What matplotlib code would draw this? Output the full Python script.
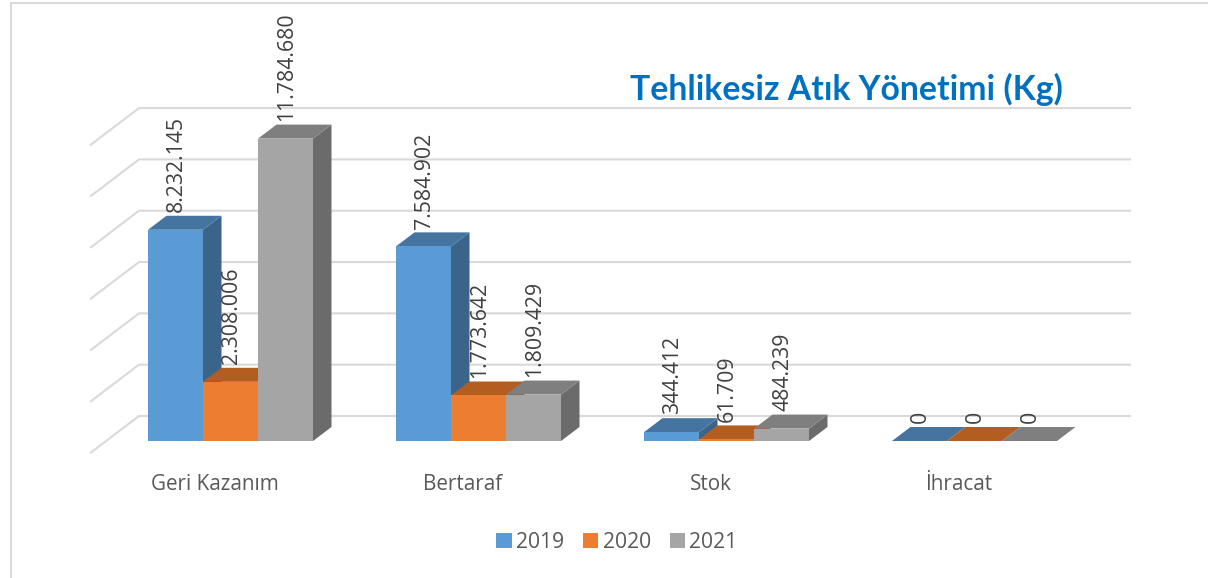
import matplotlib
matplotlib.use("Agg")
import matplotlib.pyplot as plt
from matplotlib.patches import Polygon, Rectangle
from matplotlib.lines import Line2D

categories = ["Geri Kazanım", "Bertaraf", "Stok", "İhracat"]
years = ["2019", "2020", "2021"]
v2019 = [8232145, 7584902, 344412, 0]
v2020 = [2308006, 1773642, 61709, 0]
v2021 = [11784680, 1809429, 484239, 0]
series = [v2019, v2020, v2021]
labels2019 = ["8.232.145", "7.584.902", "344.412", "0"]
labels2020 = ["2.308.006", "1.773.642", "61.709", "0"]
labels2021 = ["11.784.680", "1.809.429", "484.239", "0"]
series_labels = [labels2019, labels2020, labels2021]
grid_values = [0, 2000000, 4000000, 6000000, 8000000, 10000000, 12000000]
title = "Tehlikesiz Atık Yönetimi (Kg)"

W, H = 1208, 578
PX_X = 248.0          # pixels per category
PX_Y = 25.66e-6       # pixels per kg
X0, Y0 = 230.5, 441.0  # pixel of first group centre and of zero

front = ["#5B9BD5", "#ED7D31", "#A5A5A5"]
top = ["#44749F", "#B35E20", "#7F7F7F"]
side = ["#3A6489", "#A5561D", "#6B6B6B"]

fig = plt.figure(figsize=(W / 100, H / 100), dpi=100, facecolor="white")
ax = fig.add_axes([0, 0, 1, 1])
ax.set_xlim(-X0 / PX_X, (W - X0) / PX_X)
ax.set_ylim(-(H - Y0) / PX_Y, Y0 / PX_Y)
ax.axis("off")

def dx(px):
    return px / PX_X

def dy(px):
    return px / PX_Y

# chart frame
for xs, ys in [((11, 11), (3, H)), ((11, W), (3, 3))]:
    ax.add_line(Line2D([-X0 / PX_X + dx(p) for p in xs], [Y0 / PX_Y - dy(p) for p in ys],
                       color="#D9D9D9", lw=1.4, zorder=1))

# back wall gridlines with side-wall diagonals
GRID_COLOR = "#D9D9D9"
xl_back = -X0 / PX_X + dx(139)
xr_back = -X0 / PX_X + dx(1130)
for g in grid_values:
    yb = g + dy(25)
    ax.plot([xl_back - dx(48), xl_back, xr_back], [yb - dy(36.5), yb, yb],
            color=GRID_COLOR, lw=1.5, zorder=1, solid_joinstyle="miter")

# bars
BW = 55.0 / PX_X
DX, DY = dx(18.5), dy(14)
for c in range(len(categories)):
    for s, vals in enumerate(series):
        v = vals[c]
        x0 = c + (s - 1.5) * BW
        x1 = x0 + BW
        z = 3 + c * 10 + s
        ax.add_patch(Polygon([(x1, 0), (x1 + DX, DY), (x1 + DX, v + DY), (x1, v)],
                             closed=True, fc=side[s], ec="none", zorder=z))
        ax.add_patch(Polygon([(x0, v), (x1, v), (x1 + DX, v + DY), (x0 + DX, v + DY)],
                             closed=True, fc=top[s], ec="none", zorder=z))
        ax.bar(x0, v, width=BW, align="edge", color=front[s], edgecolor="none", zorder=z + 0.5)

# data labels
for c in range(len(categories)):
    for s, vals in enumerate(series):
        x0 = c + (s - 1.5) * BW
        ax.annotate(series_labels[s][c], (x0 + BW / 2, vals[c]), xytext=(0.8, 12.8),
                    textcoords="offset points", rotation=90, ha="center", va="bottom",
                    fontsize=15.3, family="Open Sans", color="#404040", zorder=100)

# category labels
for c, name in enumerate(categories):
    ax.text(c - dx(15.5), -dy(43.5), name, ha="center", va="center", fontsize=14.9,
            family="Open Sans", color="#595959", zorder=100)

# title
ax.text(-X0 / PX_X + dx(846), Y0 / PX_Y - dy(89), title, ha="center", va="center",
        fontsize=24.3, family="Lato", weight="bold", color="#0070C0", zorder=100)

# legend
handles = [Rectangle((0, 0), 1, 1, fc=front[i], ec="none") for i in range(3)]
ax.legend(handles, years, loc="center", bbox_to_anchor=(617 / W, 1 - 542 / H), ncol=3,
          frameon=False, labelcolor="#595959", handlelength=0.72, handleheight=0.72,
          handletextpad=0.22, columnspacing=0.88, borderpad=0,
          prop={"family": "Open Sans", "size": 15.2})

fig.savefig("out.png", dpi=100, facecolor="white")
